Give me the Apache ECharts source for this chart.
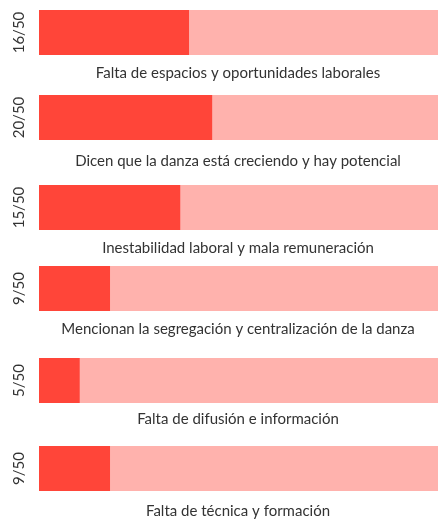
<!DOCTYPE html>
<html>
<head>
<meta charset="utf-8">
<script src="https://cdn.jsdelivr.net/npm/echarts@6/dist/echarts.min.js"></script>
<style>
  html, body { margin: 0; padding: 0; background: #fff; }
  #chart { width: 438px; height: 522px; }
</style>
</head>
<body>
<div id="chart"></div>
<script>
// datos: respuestas de 50
var captions = [
  'Falta de espacios y oportunidades laborales',
  'Dicen que la danza está creciendo y hay potencial',
  'Inestabilidad laboral y mala remuneración',
  'Mencionan la segregación y centralización de la danza',
  'Falta de difusión e información',
  'Falta de técnica y formación'
];
var counts = [16, 20, 15, 9, 5, 9];
var total = 50;
// largo de barra tal como se ve en la imagen (sobre 50)
var barLengths = [18.8, 21.7, 17.7, 8.9, 5.1, 8.9];

// layout (px)
var barTops = [10, 95, 185, 266, 358, 446];
var captionTops = [66, 154, 241, 322, 412, 504];
var barH = 45;

var grids = [], xAxes = [], yAxes = [], series = [], titles = [];
counts.forEach(function (v, i) {
  grids.push({ left: 39, right: 0, top: barTops[i], height: barH });
  xAxes.push({
    gridIndex: i, type: 'value', min: 0, max: total,
    show: false
  });
  yAxes.push({
    gridIndex: i, type: 'category', data: [v + '/' + total],
    axisLine: { show: false }, axisTick: { show: false },
    axisLabel: {
      rotate: 90, margin: 12, color: '#333',
      fontFamily: 'Lato', fontSize: 15
    }
  });
  series.push({
    type: 'bar', xAxisIndex: i, yAxisIndex: i,
    data: [barLengths[i]], barWidth: barH,
    itemStyle: { color: '#FF4539' },
    showBackground: true,
    backgroundStyle: { color: '#FFB2AD' },
    silent: true
  });
  titles.push({
    text: captions[i], left: 238, top: captionTops[i], textAlign: 'center',
    padding: 0,
    textStyle: { color: '#333', fontFamily: 'Lato', fontSize: 15, fontWeight: 'normal' }
  });
});

var chart = echarts.init(document.getElementById('chart'));
chart.setOption({
  animation: false,
  title: titles,
  grid: grids,
  xAxis: xAxes,
  yAxis: yAxes,
  series: series
});
</script>
</body>
</html>
